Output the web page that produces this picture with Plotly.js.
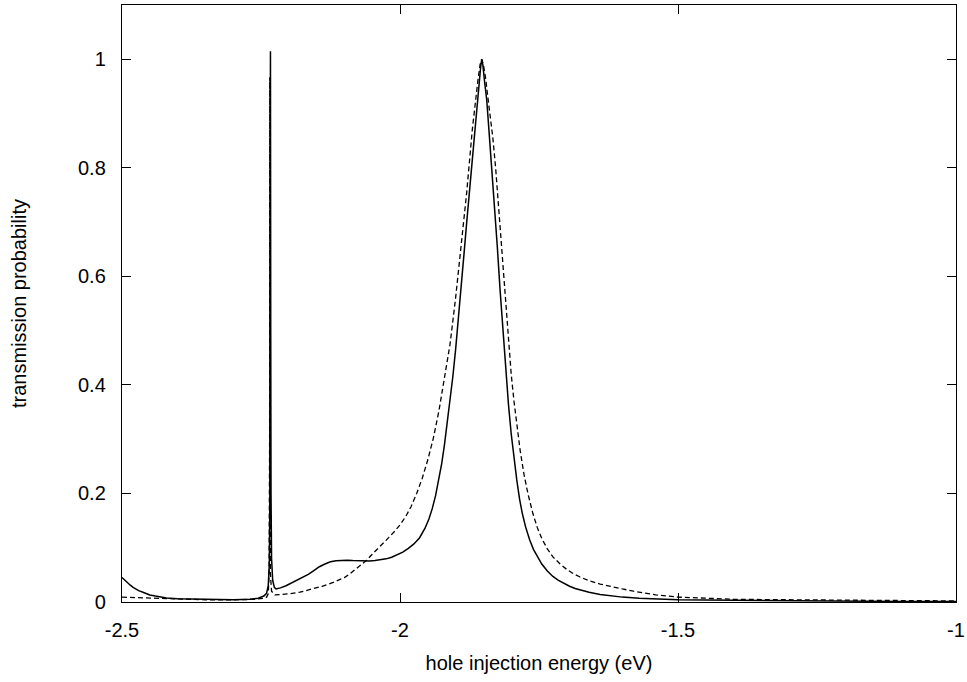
<!DOCTYPE html>
<html>
<head>
<meta charset="utf-8">
<script src="https://cdn.plot.ly/plotly-3.0.1.min.js"></script>
<style>html,body{margin:0;padding:0;background:#fff;}#chart{width:967px;height:682px;}</style>
</head>
<body>
<div id="chart"></div>
<script>
// Solid curve
var solidX = [-2.5,-2.495,-2.49,-2.485,-2.48,-2.47,-2.46,-2.45,-2.44,-2.43,-2.42,-2.40,-2.37,-2.33,-2.30,-2.27,-2.255,-2.245,-2.240,-2.237,-2.235,-2.234,-2.2335,-2.233,-2.2325,-2.232,-2.231,-2.229,-2.226,-2.223,-2.215,-2.205,-2.195,-2.185,-2.175,-2.165,-2.155,-2.145,-2.135,-2.125,-2.115,-2.105,-2.095,-2.085,-2.075,-2.065,-2.055,-2.045,-2.035,-2.025,-2.015,-2.005,-1.995,-1.985,-1.975,-1.965,-1.955,-1.948,-1.942,-1.936,-1.93,-1.925,-1.92,-1.915,-1.91,-1.905,-1.9,-1.895,-1.89,-1.885,-1.88,-1.875,-1.87,-1.865,-1.861,-1.858,-1.855,-1.853,-1.851,-1.848,-1.844,-1.84,-1.835,-1.829,-1.825,-1.82,-1.815,-1.81,-1.805,-1.8,-1.795,-1.79,-1.785,-1.78,-1.774,-1.767,-1.76,-1.754,-1.745,-1.735,-1.725,-1.715,-1.705,-1.695,-1.685,-1.676,-1.66,-1.64,-1.62,-1.6,-1.57,-1.55,-1.52,-1.5,-1.45,-1.4,-1.3,-1.2,-1.1,-1.0];
var solidY = [0.045,0.040,0.035,0.031,0.027,0.021,0.017,0.013,0.011,0.009,0.0075,0.006,0.005,0.004,0.004,0.005,0.007,0.011,0.016,0.03,0.07,0.2,0.5,1.015,0.5,0.2,0.08,0.04,0.027,0.024,0.026,0.030,0.035,0.040,0.045,0.051,0.058,0.065,0.070,0.074,0.076,0.077,0.077,0.0765,0.076,0.0755,0.0757,0.0763,0.0775,0.0795,0.0825,0.0865,0.092,0.099,0.107,0.118,0.136,0.153,0.172,0.196,0.225,0.255,0.29,0.33,0.372,0.415,0.465,0.52,0.58,0.64,0.70,0.76,0.815,0.869,0.915,0.95,0.985,1.0,0.99,0.96,0.925,0.869,0.8,0.72,0.655,0.575,0.5,0.43,0.365,0.31,0.265,0.225,0.19,0.163,0.138,0.115,0.097,0.085,0.07,0.057,0.047,0.04,0.034,0.029,0.025,0.022,0.018,0.014,0.011,0.009,0.007,0.006,0.005,0.004,0.0035,0.003,0.002,0.0015,0.001,0.001];
// Dashed curve
var dashX = [-2.5,-2.47,-2.44,-2.40,-2.35,-2.30,-2.26,-2.245,-2.24,-2.237,-2.2355,-2.2345,-2.2342,-2.2339,-2.233,-2.231,-2.225,-2.21,-2.2,-2.18,-2.16,-2.14,-2.12,-2.10,-2.09,-2.08,-2.07,-2.06,-2.05,-2.04,-2.03,-2.02,-2.01,-2.0,-1.99,-1.98,-1.97,-1.96,-1.95,-1.94,-1.93,-1.92,-1.91,-1.9,-1.89,-1.88,-1.87,-1.865,-1.86,-1.856,-1.853,-1.85,-1.846,-1.842,-1.838,-1.833,-1.828,-1.824,-1.82,-1.815,-1.81,-1.805,-1.8,-1.795,-1.79,-1.784,-1.777,-1.77,-1.761,-1.753,-1.745,-1.735,-1.725,-1.712,-1.70,-1.688,-1.676,-1.66,-1.64,-1.62,-1.6,-1.58,-1.56,-1.54,-1.52,-1.5,-1.45,-1.4,-1.35,-1.3,-1.2,-1.1,-1.0];
var dashY = [0.009,0.008,0.006,0.005,0.004,0.004,0.005,0.007,0.009,0.015,0.05,0.3,0.967,0.3,0.05,0.02,0.013,0.014,0.015,0.018,0.023,0.029,0.036,0.045,0.052,0.06,0.068,0.077,0.088,0.098,0.108,0.119,0.13,0.142,0.157,0.176,0.2,0.228,0.262,0.302,0.352,0.41,0.475,0.56,0.655,0.755,0.87,0.92,0.96,0.99,1.0,0.99,0.965,0.93,0.9,0.855,0.8,0.745,0.685,0.615,0.545,0.48,0.42,0.37,0.325,0.28,0.235,0.2,0.163,0.137,0.117,0.098,0.083,0.07,0.06,0.052,0.046,0.039,0.033,0.028,0.024,0.02,0.016,0.013,0.011,0.009,0.007,0.005,0.0045,0.004,0.003,0.0025,0.002];
// Ticks
var xTickVals = [-2.5,-2,-1.5,-1];
var xTickText = ["-2.5","-2","-1.5","-1"];
var yTickVals = [0,0.2,0.4,0.6,0.8,1];
var yTickText = ["0","0.2","0.4","0.6","0.8","1"];

var traces = [
  {x: solidX, y: solidY, mode: 'lines', line: {color: '#000', width: 1.5}, hoverinfo: 'skip'},
  {x: dashX, y: dashY, mode: 'lines', line: {color: '#000', width: 1.3, dash: '5px,3px'}, hoverinfo: 'skip'}
];
var font = {family: 'Liberation Sans, Arial, Helvetica, sans-serif', color: '#000'};
var layout = {
  width: 967, height: 682,
  margin: {l: 122, r: 11, t: 5, b: 80},
  paper_bgcolor: '#fff', plot_bgcolor: '#fff',
  showlegend: false,
  font: font,
  xaxis: {
    range: [-2.5, -1], tickvals: xTickVals, ticktext: xTickText,
    ticks: 'inside', ticklen: 9, tickwidth: 1, tickcolor: '#000',
    showline: true, linecolor: '#000', linewidth: 1.2, mirror: 'allticks',
    showgrid: false, zeroline: false, ticklabelstandoff: 10,
    tickfont: {family: font.family, size: 20, color: '#000'},
    title: {text: 'hole injection energy (eV)', font: {family: font.family, size: 20, color: '#000'}, standoff: 15}
  },
  yaxis: {
    range: [0, 1.1], tickvals: yTickVals, ticktext: yTickText,
    ticks: 'inside', ticklen: 9, tickwidth: 1, tickcolor: '#000',
    showline: true, linecolor: '#000', linewidth: 1.2, mirror: 'allticks',
    showgrid: false, zeroline: false, ticklabelstandoff: 11,
    tickfont: {family: font.family, size: 20, color: '#000'},
    title: {text: 'transmission probability', font: {family: font.family, size: 20, color: '#000'}, standoff: 46}
  }
};
Plotly.newPlot('chart', traces, layout, {displayModeBar: false, staticPlot: true});
</script>
</body>
</html>
